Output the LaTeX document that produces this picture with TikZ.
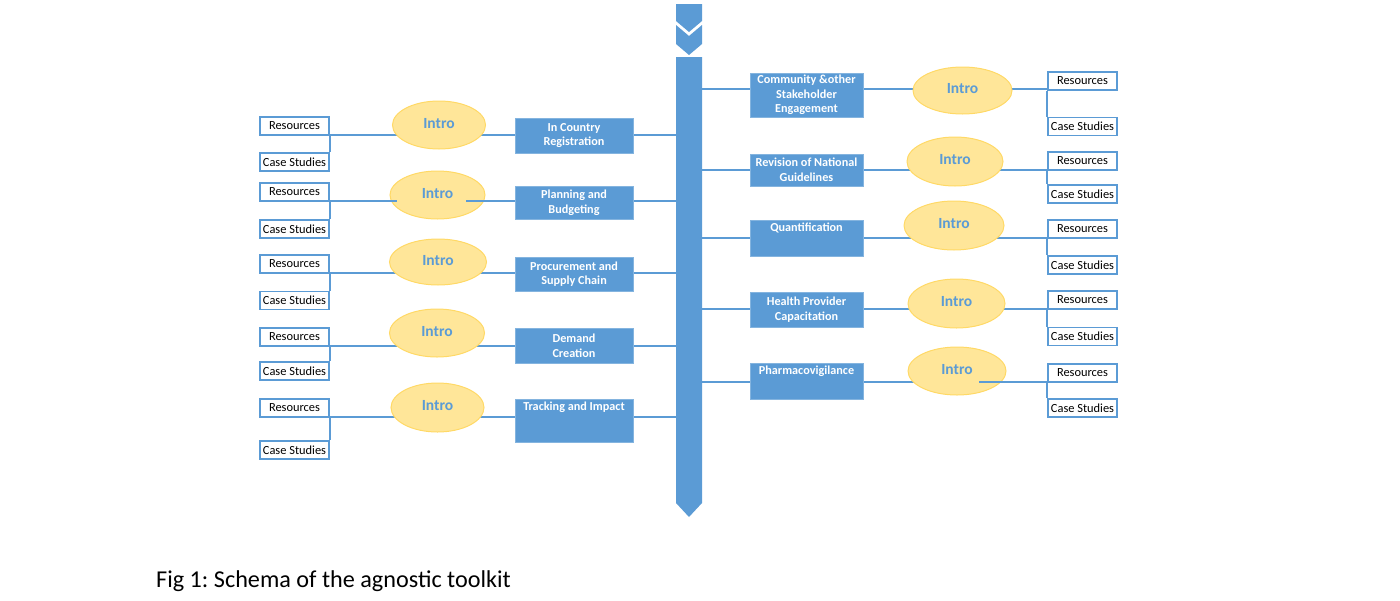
\documentclass[tikz,border=0pt]{standalone}
\usepackage{fontspec}
\setmainfont{Carlito}
\frenchspacing
\usetikzlibrary{shapes.geometric,backgrounds}
\definecolor{sblue}{HTML}{5B9BD5}
\definecolor{efill}{HTML}{FFE699}
\definecolor{edraw}{HTML}{FFD966}
\tikzset{
  topic/.style={fill=sblue, draw=sblue!75!white, line width=0.6, inner sep=0,
    text=white, font=\fontsize{12.2}{14.6}\selectfont\bfseries, align=center},
  toptext/.style={anchor=north, inner sep=3, text=white,
    font=\fontsize{12.2}{14.6}\selectfont\bfseries},
  res/.style={draw=sblue, fill=white, line width=1.6, minimum width=69,
    minimum height=18, inner sep=0, font=\fontsize{12.4}{13}\selectfont},
  intro/.style={ellipse, fill=efill, draw=edraw, line width=1, inner sep=0,
    text=sblue, font=\fontsize{15.5}{17}\selectfont\bfseries, text depth=4},
  conn/.style={draw=sblue, line width=1.6},
}
\begin{document}
\begin{tikzpicture}[x=1pt,y=-1pt]
\useasboundingbox (0,0) rectangle (1400,600);

% spine
\fill[sblue] (676,4) -- (702,4) -- (702,21) -- (689,32) -- (676,21) -- cycle;
\fill[sblue] (676,25) -- (689,36) -- (702,25) -- (702,44) -- (689,55) -- (676,44) -- cycle;
\fill[sblue] (676,57) -- (702,57) -- (702,503) -- (689,517) -- (676,503) -- cycle;
\coordinate (spL) at (676,0);
\coordinate (spR) at (702,0);

% row levels
\coordinate (yl1) at (0,135);
\coordinate (yl2) at (0,201);
\coordinate (yl3) at (0,273);
\coordinate (yl4) at (0,346);
\coordinate (yl5) at (0,417);
\coordinate (yr1) at (0,89);
\coordinate (yr2) at (0,170);
\coordinate (yr3) at (0,238);
\coordinate (yr4) at (0,309);
\coordinate (yr5) at (0,382);

% left topics
\node[topic, minimum width=118, minimum height=35] (bl1) at (574,135.5) {In Country\\Registration};
\node[topic, minimum width=118, minimum height=33] (bl2) at (574,202.5) {Planning and\\Budgeting};
\node[topic, minimum width=118, minimum height=34] (bl3) at (574,274) {Procurement and\\Supply Chain};
\node[topic, minimum width=118, minimum height=35] (bl4) at (574,345.5) {Demand\\Creation};
\node[topic, minimum width=118, minimum height=43,
  label={[toptext]north:Tracking and Impact}] (bl5) at (574,420.5) {};

% left intros
\node[intro, minimum width=93, minimum height=48] (el1) at (439,125) {Intro};
\node[intro, minimum width=95, minimum height=48] (el2) at (437.5,195) {Intro};
\node[intro, minimum width=97, minimum height=46] (el3) at (438,262) {Intro};
\node[intro, minimum width=95, minimum height=48] (el4) at (437,333) {Intro};
\node[intro, minimum width=93, minimum height=49] (el5) at (437.5,407.5) {Intro};

% left resources
\node[res] (rl1) at (294.5,126) {Resources};
\node[res] (cl1) at (294.5,162) {Case Studies};
\node[res] (rl2) at (294.5,192) {Resources};
\node[res] (cl2) at (294.5,229) {Case Studies};
\node[res] (rl3) at (294.5,264) {Resources};
\node[res] (cl3) at (294.5,300.5) {Case Studies};
\node[res] (rl4) at (294.5,337) {Resources};
\node[res] (cl4) at (294.5,371) {Case Studies};
\node[res] (rl5) at (294.5,408) {Resources};
\node[res] (cl5) at (294.5,450) {Case Studies};

% right topics
\node[topic, minimum width=113, minimum height=44] (br1) at (806.5,95) {Community \&other\\Stakeholder\\Engagement};
\node[topic, minimum width=113, minimum height=32] (br2) at (806.5,170) {Revision of National\\Guidelines};
\node[topic, minimum width=113, minimum height=36,
  label={[toptext]north:Quantification}] (br3) at (806.5,238) {};
\node[topic, minimum width=113, minimum height=35] (br4) at (806.5,309.5) {Health Provider\\Capacitation};
\node[topic, minimum width=113, minimum height=36,
  label={[toptext]north:Pharmacovigilance}] (br5) at (806.5,381) {};

% right intros
\node[intro, minimum width=99, minimum height=47] (er1) at (962.5,90.5) {Intro};
\node[intro, minimum width=96, minimum height=49] (er2) at (955,161.5) {Intro};
\node[intro, minimum width=100, minimum height=49] (er3) at (954,225.5) {Intro};
\node[intro, minimum width=97, minimum height=49] (er4) at (956.5,303.5) {Intro};
\node[intro, minimum width=98, minimum height=48] (er5) at (957,371) {Intro};

% right resources
\node[res] (rr1) at (1082.5,81) {Resources};
\node[res] (cr1) at (1082.5,126.5) {Case Studies};
\node[res] (rr2) at (1082.5,161) {Resources};
\node[res] (cr2) at (1082.5,194) {Case Studies};
\node[res] (rr3) at (1082.5,229) {Resources};
\node[res] (cr3) at (1082.5,265) {Case Studies};
\node[res] (rr4) at (1082.5,300) {Resources};
\node[res] (cr4) at (1082.5,336.5) {Case Studies};
\node[res] (rr5) at (1082.5,373) {Resources};
\node[res] (cr5) at (1082.5,408) {Case Studies};

% connectors (behind)
\begin{scope}[on background layer]
\foreach \i in {1,...,5}{
  \draw[conn] (spL |- yl\i) -- (bl\i.east |- yl\i);
  \draw[conn] (bl\i.west |- yl\i) -- (el\i.center |- yl\i);
  \draw[conn] (el\i.center |- yl\i) -- (rl\i.east |- yl\i);
  \draw[conn] (rl\i.south east) -- (cl\i.north east);
  \draw[conn] (spR |- yr\i) -- (br\i.west |- yr\i);
  \draw[conn] (br\i.east |- yr\i) -- (er\i.center |- yr\i);
  \draw[conn] (er\i.center |- yr\i) -- (rr\i.west |- yr\i);
  \draw[conn] (rr\i.south west) -- (cr\i.north west);
}
\end{scope}

% segments that run over the ellipses
\coordinate (q2a) at (397,201);
\coordinate (q2b) at (466,201);
\coordinate (q5) at (979,382);
\draw[conn] (rl2.east |- yl2) -- (q2a);
\draw[conn] (q2b) -- (bl2.west |- yl2);
\draw[conn] (q5) -- (rr5.west |- yr5);

% caption
\node[anchor=base west, inner sep=0, font=\fontsize{24.2}{28}\selectfont] (cap) at (156,587) {Fig 1: Schema of the agnostic toolkit};
\end{tikzpicture}
\end{document}
